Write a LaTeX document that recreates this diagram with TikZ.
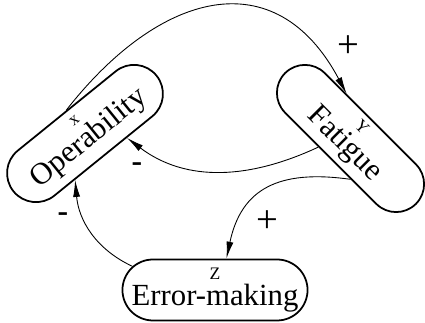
\documentclass[tikz,border=0pt]{standalone}
\usepackage{fontspec}
\setmainfont{Liberation Serif}
\usetikzlibrary{arrows.meta}
\usetikzlibrary{shapes.misc}

\newcommand{\vartag}[1]{{\fontsize{10}{10}\selectfont #1}}

\begin{document}
\begin{tikzpicture}[
        x=0.02cm, y=0.02cm,
        box/.style={
            rounded rectangle,
            draw,
            line width=1pt,
            inner sep=0pt,
            align=center,
            font=\fontsize{17.5}{18}\selectfont
        },
        arrow/.style={
            -{Latex[length=3.4mm,width=1.4mm]},
            line width=0.5pt
        },
        possign/.style={font=\fontsize{22}{22}\selectfont},
        negsign/.style={font=\fontsize{18}{18}\selectfont\bfseries}
    ]
    \useasboundingbox (0,0) rectangle (425,323);

    % Nodes
    \node[box, rotate=39, minimum width=3.68cm, minimum height=1.16cm] (operability) at (85,189.5) {\vartag{x}\\[-3pt]Operability};
    \node[box, rotate=-45, minimum width=3.7cm, minimum height=1.12cm] (fatigue) at (350.5,184.5) {\vartag{Y}\\[-3pt]Fatigue};
    \node[box, minimum width=3.6cm, minimum height=1.22cm] (errors) at (215,33) {\vartag{Z}\\[-3.5pt]Error-making};

    % Arrows
    \draw[arrow] (operability.north) to[out=52, in=118, looseness=1.38] (fatigue.140);
    \draw[arrow] (fatigue.240) to[out=205, in=-37] (operability.315);
    \draw[arrow] (fatigue.315) to[out=172, in=78, looseness=1.25] (errors.70);
    \draw[arrow] (errors.164) to[out=155, in=-85] (operability.219);

    % Signs
    \node[possign] (plustop) at (348,276) {+};
    \node[negsign] (minusmid) at (137,156) {-};
    \node[possign] (plusbottom) at (267,101) {+};
    \node[negsign] (minusleft) at (63,106) {-};

\end{tikzpicture}
\end{document}
